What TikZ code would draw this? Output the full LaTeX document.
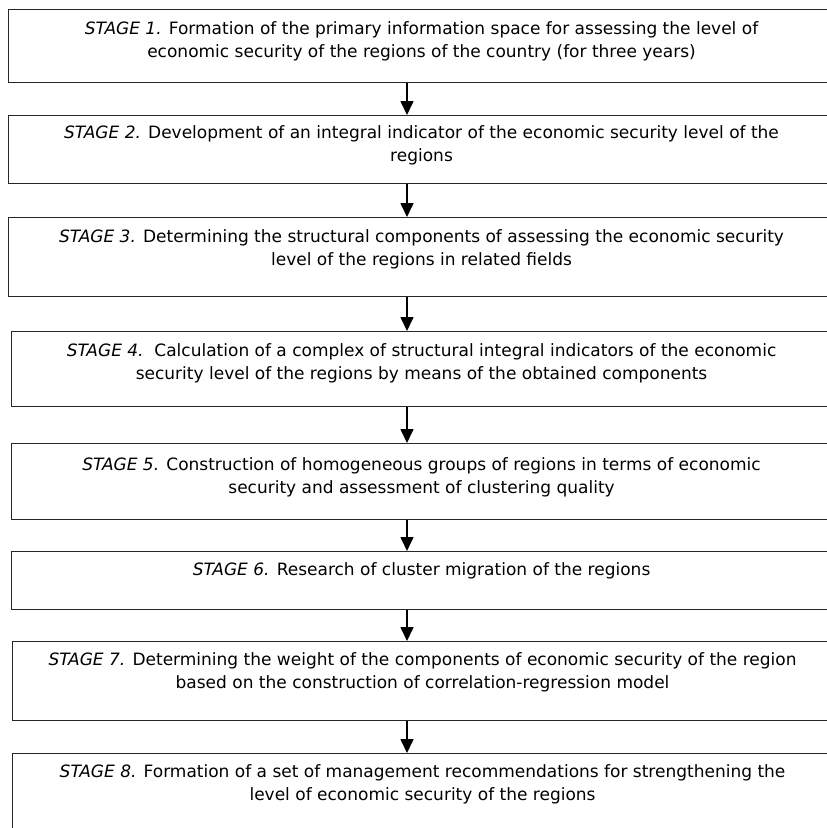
\documentclass[tikz,border=0pt]{standalone}
\usepackage{fontspec}
\setmainfont{DejaVu Sans}
\usepackage{tikz}
\usetikzlibrary{positioning,arrows.meta}
\newcommand{\stg}[1]{\textit{STAGE #1.}}

\begin{document}
\begin{tikzpicture}[x=1pt,y=1pt]
\tikzstyle{stage}=[rectangle, draw=black!85, line width=1.1pt, anchor=north west, inner sep=0pt]
\tikzstyle{stagetext}=[align=center, inner sep=0pt, font=\fontsize{17}{23}\selectfont]
\tikzstyle{connect}=[-{Triangle[length=14pt,width=13pt]}, line width=1.6pt]
  \clip (0,0) rectangle (827,-828);
  \fill[white] (0,0) rectangle (827,-828);
  \coordinate (ax) at (407,0);
  % stage boxes
  \node[stage, minimum width=826pt, minimum height=73pt] (s1) at (8,-9) {};
  \node[stage, minimum width=826pt, minimum height=68pt] (s2) at (8,-115) {};
  \node[stage, minimum width=826pt, minimum height=79pt] (s3) at (8,-217) {};
  \node[stage, minimum width=820pt, minimum height=75pt] (s4) at (11,-331) {};
  \node[stage, minimum width=820pt, minimum height=76pt] (s5) at (11,-443) {};
  \node[stage, minimum width=820pt, minimum height=58pt] (s6) at (11,-551) {};
  \node[stage, minimum width=820pt, minimum height=79pt] (s7) at (12,-641) {};
  \node[stage, minimum width=820pt, minimum height=95pt] (s8) at (12,-753) {};
  % texts
  \node[stagetext] (t1) [below=12pt of s1.north] {\stg{1} Formation of the primary information space for assessing the level of\\economic security of the regions of the country (for three years)};
  \node[stagetext] (t2) [below=10pt of s2.north] {\stg{2} Development of an integral indicator of the economic security level of the\\regions};
  \node[stagetext] (t3) [below=12pt of s3.north] {\stg{3} Determining the structural components of assessing the economic security\\level of the regions in related fields};
  \node[stagetext] (t4) [below=12pt of s4.north] {\stg{4}\ \ Calculation of a complex of structural integral indicators of the economic\\security level of the regions by means of the obtained components};
  \node[stagetext] (t5) [below=14pt of s5.north] {\stg{5} Construction of homogeneous groups of regions in terms of economic\\security and assessment of clustering quality};
  \node[stagetext] (t6) [below=11pt of s6.north] {\stg{6} Research of cluster migration of the regions};
  \node[stagetext] (t7) [below=11pt of s7.north] {\stg{7} Determining the weight of the components of economic security of the region\\based on the construction of correlation-regression model};
  \node[stagetext] (t8) [below=11pt of s8.north] {\stg{8} Formation of a set of management recommendations for strengthening the\\level of economic security of the regions};
  % arrows
  \foreach \a/\b in {s1/s2,s2/s3,s3/s4,s4/s5,s5/s6,s6/s7,s7/s8}
    \draw[connect] (\a.south -| ax) -- (\b.north -| ax);
\end{tikzpicture}
\end{document}
